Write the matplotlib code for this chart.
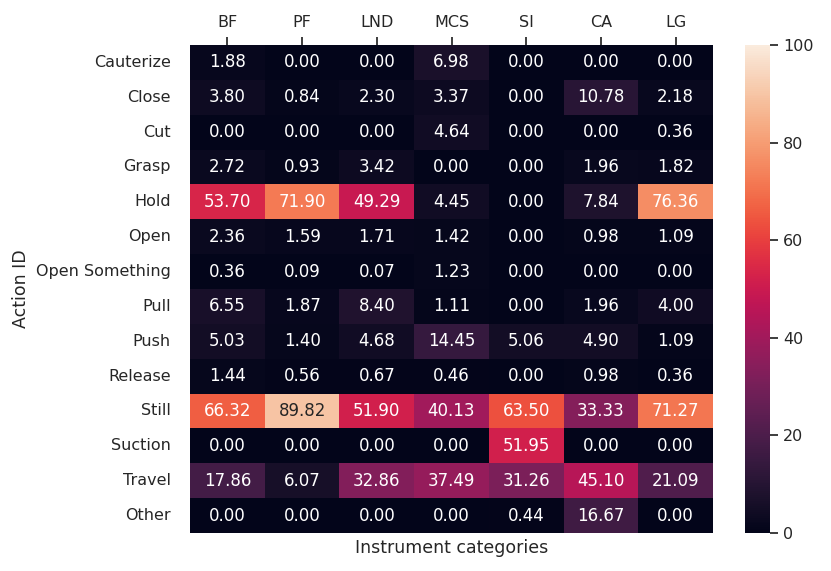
import numpy as np
import matplotlib
matplotlib.use('Agg')
import matplotlib.pyplot as plt
import seaborn as sns

actions = ['Cauterize', 'Close', 'Cut', 'Grasp', 'Hold', 'Open', 'Open Something',
           'Pull', 'Push', 'Release', 'Still', 'Suction', 'Travel', 'Other']
instruments = ['BF', 'PF', 'LND', 'MCS', 'SI', 'CA', 'LG']

bf = [1.88, 3.80, 0.00, 2.72, 53.70, 2.36, 0.36, 6.55, 5.03, 1.44, 66.32, 0.00, 17.86, 0.00]
pf = [0.00, 0.84, 0.00, 0.93, 71.90, 1.59, 0.09, 1.87, 1.40, 0.56, 89.82, 0.00, 6.07, 0.00]
lnd = [0.00, 2.30, 0.00, 3.42, 49.29, 1.71, 0.07, 8.40, 4.68, 0.67, 51.90, 0.00, 32.86, 0.00]
mcs = [6.98, 3.37, 4.64, 0.00, 4.45, 1.42, 1.23, 1.11, 14.45, 0.46, 40.13, 0.00, 37.49, 0.00]
si = [0.00, 0.00, 0.00, 0.00, 0.00, 0.00, 0.00, 0.00, 5.06, 0.00, 63.50, 51.95, 31.26, 0.44]
ca = [0.00, 10.78, 0.00, 1.96, 7.84, 0.98, 0.00, 1.96, 4.90, 0.98, 33.33, 0.00, 45.10, 16.67]
lg = [0.00, 2.18, 0.36, 1.82, 76.36, 1.09, 0.00, 4.00, 1.09, 0.36, 71.27, 0.00, 21.09, 0.00]

data = np.array([bf, pf, lnd, mcs, si, ca, lg]).T

sns.set_theme(style='ticks')
plt.rcParams['font.family'] = ['DejaVu Sans']
fig = plt.figure(figsize=(8.31, 5.71), dpi=100)
ax = fig.add_axes([190/831, 38/571, 523/831, 488/571])
cax = fig.add_axes([745/831, 38/571, 25/831, 488/571])

sns.heatmap(data, ax=ax, cbar_ax=cax, cmap='rocket', vmin=0, vmax=100,
            annot=True, fmt='.2f', annot_kws={'size': 12},
            xticklabels=instruments, yticklabels=actions)
ax.xaxis.tick_top()
ax.tick_params(axis='x', length=6, labelsize=11.5, pad=5)
ax.tick_params(axis='y', length=0, labelsize=11.5, pad=14, rotation=0)
ax.set_xlabel('Instrument categories', fontsize=12.5)
ax.set_ylabel('Action ID', fontsize=12.5)
cax.tick_params(labelsize=11.5, length=6)
cax.set_yticks([0, 20, 40, 60, 80, 100])

fig.savefig('out.png', dpi=100)
